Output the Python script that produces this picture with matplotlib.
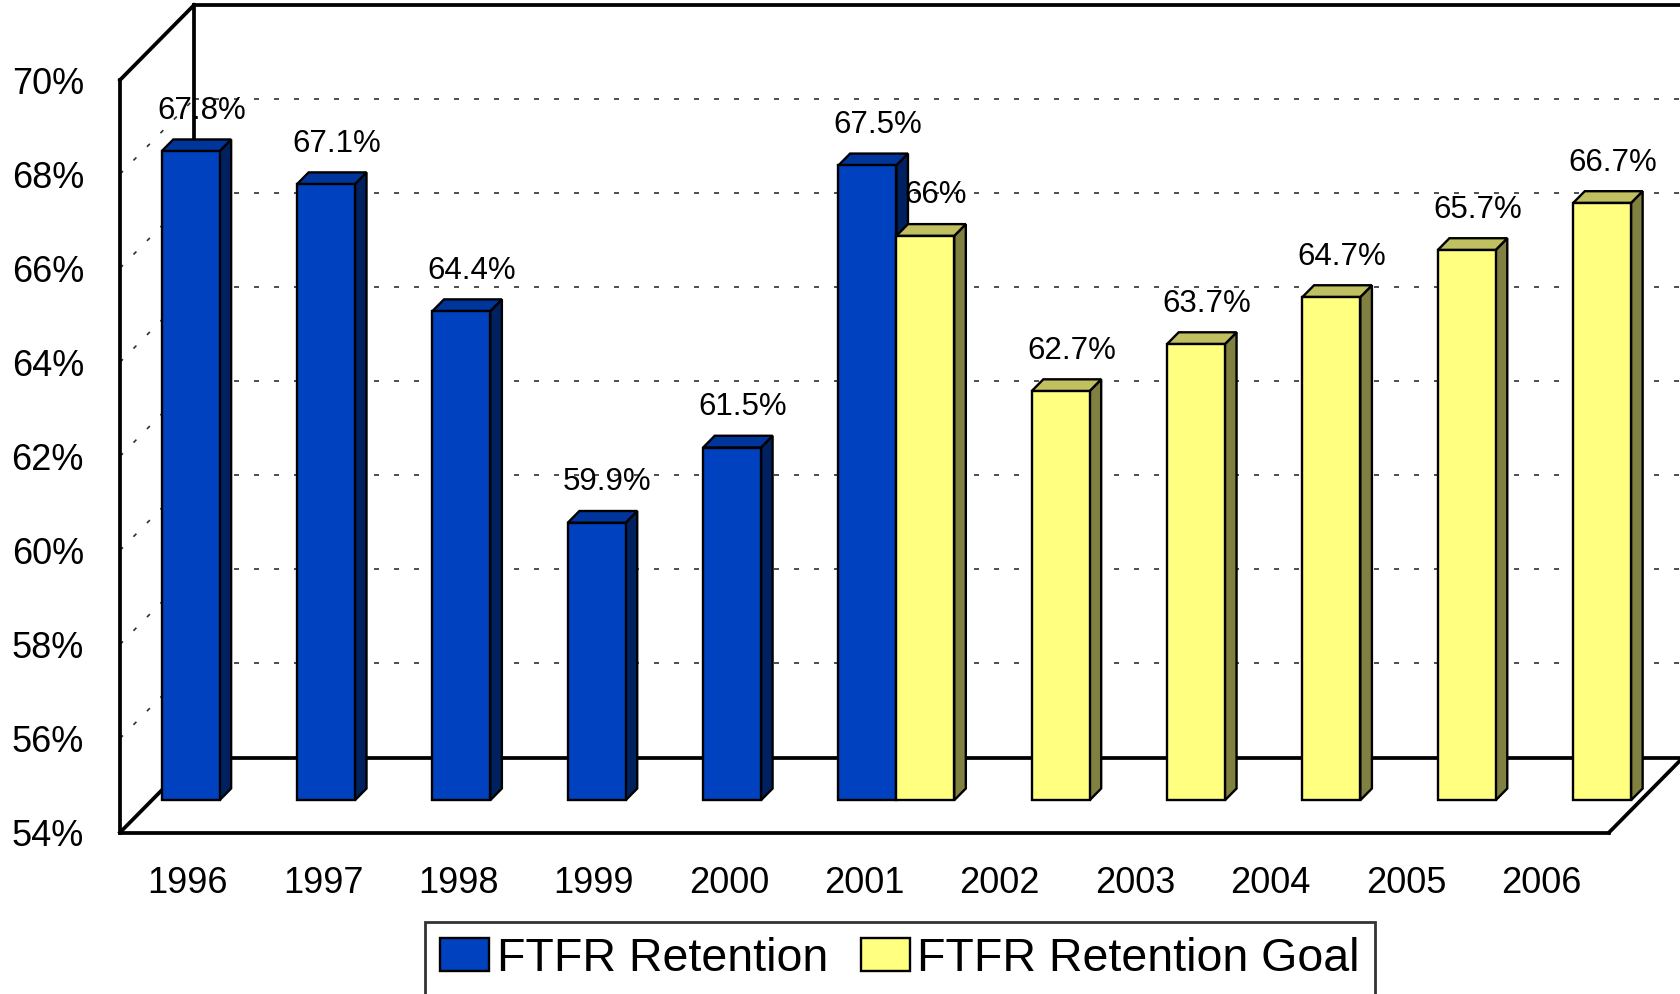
import matplotlib
matplotlib.use('Agg')
import matplotlib.pyplot as plt
from matplotlib.patches import Polygon, Patch
import numpy as np

# Data
years = ['1996', '1997', '1998', '1999', '2000', '2001',
         '2002', '2003', '2004', '2005', '2006']
retention = [67.8, 67.1, 64.4, 59.9, 61.5, 67.5,
             None, None, None, None, None]
goal = [None, None, None, None, None, 66.0,
        62.7, 63.7, 64.7, 65.7, 66.7]
series_names = ['FTFR Retention', 'FTFR Retention Goal']
y_ticks = [54, 56, 58, 60, 62, 64, 66, 68, 70]

# Styling
face_colors = [('#0041BF', '#00359C', '#00215F'),   # front, top, side
               ('#FFFF80', '#C0C060', '#808040')]
y_min, y_max = 54, 70
depth = (0.547, 1.594)       # floor depth offset (x in categories, y in %)
bar_front = 0.43             # bar front position as fraction of depth
bar_thick = 0.157            # bar thickness as fraction of depth
bar_w = 0.4275
bar_start = 0.0725

plt.rcParams['font.family'] = ['Liberation Sans', 'DejaVu Sans']

fig = plt.figure(figsize=(16.8, 9.94), dpi=100)
ax = fig.add_axes([120 / 1680, 1 - 832.5 / 994, 1489 / 1680, 752.5 / 994])
ax.set_xlim(0, len(years))
ax.set_ylim(y_min, y_max)
for s in ax.spines.values():
    s.set_visible(False)

dx, dy = depth
n = len(years)

# Back wall gridlines (dashed) and side wall gridlines
for t in y_ticks[1:-1]:
    ax.plot([dx, n + dx], [t + dy, t + dy], color='#303030', lw=1.2,
            dashes=(3, 9), clip_on=False, zorder=1)
    ax.plot([0, dx], [t, t + dy], color='#303030', lw=1.2,
            dashes=(2.5, 9), clip_on=False, zorder=1)

# 3D frame
frame_kw = dict(color='black', lw=2.7, clip_on=False, zorder=2,
                solid_capstyle='projecting')
ax.plot([0, 0], [y_min, y_max], **frame_kw)
ax.plot([0, dx], [y_max, y_max + dy], **frame_kw)
ax.plot([0, dx], [y_min, y_min + dy], **frame_kw)
ax.plot([dx, dx], [y_min + dy, y_max + dy], **frame_kw)
ax.plot([dx, n + dx], [y_max + dy, y_max + dy], **frame_kw)
ax.plot([dx, n + dx], [y_min + dy, y_min + dy], **frame_kw)
ax.plot([0, n], [y_min, y_min], **frame_kw)
ax.plot([n, n + dx], [y_min, y_min + dy], **frame_kw)

# Bars
ox, oy = dx * bar_front, dy * bar_front
tx, ty = dx * bar_thick, dy * bar_thick
z = 3
for i in range(n):
    for s, vals in enumerate([retention, goal]):
        v = vals[i]
        if v is None:
            continue
        front, top, side = face_colors[s]
        x0 = i + bar_start + s * bar_w + ox
        x1 = x0 + bar_w
        yb = y_min + oy
        yt = v + oy
        poly_kw = dict(closed=True, ec='black', lw=1.7, clip_on=False,
                       joinstyle='miter')
        ax.add_patch(Polygon([[x1, yb], [x1 + tx, yb + ty], [x1 + tx, yt + ty],
                              [x1, yt]], fc=side, zorder=z, **poly_kw))
        ax.add_patch(Polygon([[x0, yt], [x1, yt], [x1 + tx, yt + ty],
                              [x0 + tx, yt + ty]], fc=top, zorder=z, **poly_kw))
        ax.add_patch(Polygon([[x0, yb], [x1, yb], [x1, yt], [x0, yt]],
                             fc=front, zorder=z + 0.5, **poly_kw))
        # value label above the bar
        ax.text((x0 + x1) / 2 + 0.08, yt + 0.86, f'{v:g}%',
                ha='center', va='center', fontsize=22.5,
                zorder=10, clip_on=False)
        z += 1

# Axis ticks
ax.set_yticks(y_ticks)
ax.set_yticklabels([f'{t}%' for t in y_ticks])
ax.set_xticks(np.arange(n) + 0.5)
ax.set_xticklabels(years)
ax.tick_params(axis='y', length=0, labelsize=26, pad=26)
ax.tick_params(axis='x', length=0, labelsize=26, pad=24)

# Legend
handles = [Patch(fc=face_colors[k][0], ec='black', lw=1.7, label=series_names[k])
           for k in range(2)]
leg = fig.legend(handles=handles, loc='center', ncol=2,
                 bbox_to_anchor=(900 / 1680, 1 - 959 / 994),
                 fontsize=33.5, frameon=True, fancybox=False, shadow=False,
                 borderpad=0.33, handlelength=1.05, handleheight=0.7,
                 handletextpad=0.17, columnspacing=0.7, borderaxespad=0)
leg.get_frame().set_edgecolor('black')
leg.get_frame().set_linewidth(2.0)

fig.savefig('out.png', dpi=100)
